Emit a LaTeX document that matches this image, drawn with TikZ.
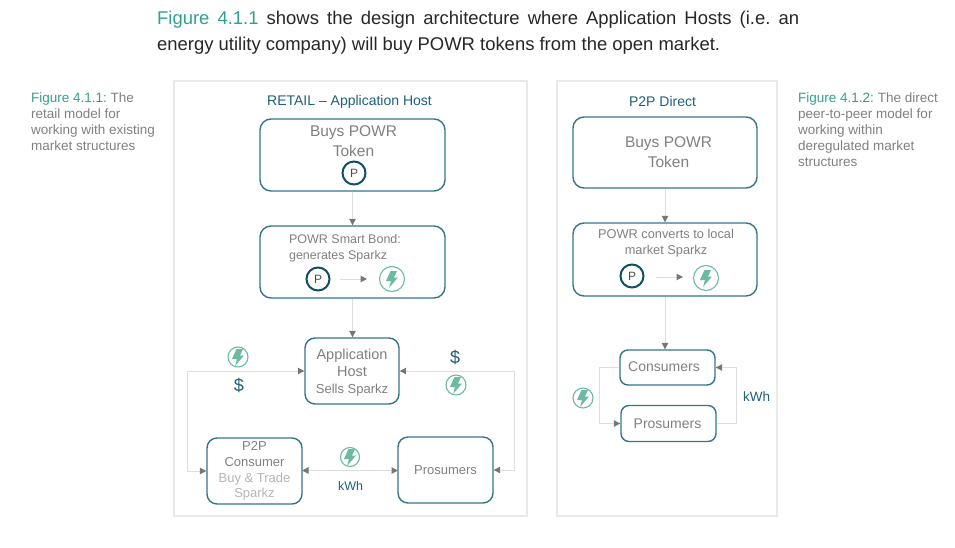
\documentclass[tikz,border=0pt]{standalone}
\usepackage{fontspec}
\setmainfont{Liberation Sans}
\frenchspacing
\definecolor{boxteal}{HTML}{347489}
\definecolor{darkteal}{HTML}{1F5F7A}
\definecolor{ringteal}{HTML}{0F4F68}
\definecolor{sparkgreen}{HTML}{6DBB9F}
\definecolor{figgreen}{HTML}{2FA08F}
\definecolor{textgray}{HTML}{808080}
\definecolor{palegray}{HTML}{B5B5B5}
\definecolor{panelgray}{HTML}{E9E9E9}
\definecolor{linegray}{HTML}{DEDEDE}
\definecolor{tipgray}{HTML}{777777}
\usetikzlibrary{arrows.meta}
\tikzset{
  panel/.style = {draw = panelgray, line width = 1.6pt},
  stepbox/.style = {draw = boxteal, line width = 1.4pt, rounded corners = 11pt, inner sep = 0pt},
  boxtext/.style = {inner sep = 0pt, text = textgray, align = center},
  flow/.style = {draw = linegray, line width = 1pt, -{Triangle[length = 6.5pt, width = 6.5pt, color = tipgray]}},
  twoway/.style = {flow, {Triangle[length = 6.5pt, width = 6.5pt, color = tipgray]}-{Triangle[length = 6.5pt, width = 6.5pt, color = tipgray]}},
  powr/.style = {circle, draw = ringteal, line width = 2pt, minimum size = 23pt, inner sep = 0pt, text = black!70, font = \fontsize{12}{12}\selectfont},
  sparkz/.style = {circle, draw = sparkgreen, line width = 1.1pt, minimum size = #1, inner sep = 0pt,
    path picture = {\fill[sparkgreen, scale = #1/24pt, shift = {(path picture bounding box.center)}]
      (-1.5pt, 8pt) -- (5pt, 8pt) -- (2pt, 1.5pt) -- (6pt, 1.5pt) -- (-3pt, -9pt) -- (-1pt, -2pt) -- (-6pt, -2pt) -- cycle;}},
  sparkz/.default = 22pt,
  lbl/.style = {text = darkteal, inner sep = 0pt},
  side/.style = {anchor = north west, align = left, text = textgray, inner sep = 0pt, font = \fontsize{13.5}{16}\selectfont},
  head/.style = {text = darkteal, inner sep = 0pt, font = \fontsize{14}{14}\selectfont},
  intro/.style = {anchor = base west, inner sep = 0pt, text = black!85, font = \fontsize{18.45}{18.45}\selectfont}
}
\begin{document}
\begin{tikzpicture}[x = 1pt, y = -1pt]
  \useasboundingbox (0, 0) rectangle (955, 548);
  % intro text
  \node (introa) [intro] at (157, 25) {\makebox[642pt][s]{\textcolor{figgreen}{Figure 4.1.1} shows the design architecture where Application Hosts (i.e. an}};
  \node (introb) [intro] at (157, 51) {energy utility company) will buy POWR tokens from the open market.};
  % side notes
  \node (noteleft) [side] at (31, 93) {\textcolor{figgreen}{Figure 4.1.1:} The\\retail model for\\working with existing\\market structures};
  \node (noteright) [side] at (798, 93) {\textcolor{figgreen}{Figure 4.1.2:} The direct\\peer-to-peer model for\\working within\\deregulated market\\structures};
  % panels
  \node (retail) [panel, minimum width = 353pt, minimum height = 435pt] at (350.5, 298.5) {};
  \node (direct) [panel, minimum width = 220pt, minimum height = 435pt] at (667, 298.5) {};
  \node (retailhead) [head] at (349.5, 101.5) {RETAIL -- Application Host};
  \node (directhead) [head] at (662.5, 101) {P2P Direct};
  % retail model
  \node (buya) [stepbox, minimum width = 185pt, minimum height = 72pt] at (352.5, 155) {};
  \node (buyatext) [boxtext, font = \fontsize{15.5}{20}\selectfont] at (353.5, 141) {Buys POWR\\Token};
  \node (buyap) [powr] at (354, 173) {P};
  \node (bond) [stepbox, minimum width = 185pt, minimum height = 72pt] at (352.5, 262) {};
  \node (bondtext) [boxtext, align = left, font = \fontsize{12.5}{16}\selectfont] at (345, 248) {POWR Smart Bond:\\generates Sparkz};
  \node (bondp) [powr] at (318, 279) {P};
  \node (bonds) [sparkz = 25pt] at (392, 279) {};
  \coordinate (bonda) at (340, 279);
  \coordinate (bondb) at (367, 279);
  \node (host) [stepbox, rounded corners = 10pt, minimum width = 94pt, minimum height = 66pt] at (352, 371) {};
  \node (hosttext) [boxtext, font = \fontsize{14.5}{17}\selectfont] at (352, 373) {Application\\Host\\{\fontsize{13}{17}\selectfont Sells Sparkz}};
  \node (consumer) [stepbox, rounded corners = 10pt, minimum width = 95pt, minimum height = 66pt] at (254.5, 471) {};
  \node (consumertext) [boxtext, font = \fontsize{13}{15.7}\selectfont] at (254.5, 471) {P2P\\Consumer\\\textcolor{palegray}{Buy \& Trade}\\\textcolor{palegray}{Sparkz}};
  \node (prosa) [stepbox, rounded corners = 10pt, minimum width = 95pt, minimum height = 66pt, text = textgray, font = \fontsize{13}{15}\selectfont] at (445.5, 470) {Prosumers};
  \node (hosts) [sparkz = 20pt] at (238, 357) {};
  \node (hostd) [lbl, font = \fontsize{18}{18}\selectfont] at (239, 385) {\$};
  \node (hostdr) [lbl, font = \fontsize{18}{18}\selectfont] at (455, 357) {\$};
  \node (hostsr) [sparkz = 20pt] at (456, 385) {};
  \node (kwhs) [sparkz = 19pt] at (350, 457) {};
  \node (kwha) [lbl, font = \fontsize{12.5}{12.5}\selectfont] at (350.5, 486) {kWh};
  \coordinate (la) at (187, 371);
  \coordinate (lb) at (187, 471);
  \coordinate (ra) at (514, 371);
  \coordinate (rb) at (514, 470);
  \coordinate (mida) at (302, 470.5);
  \coordinate (midb) at (398, 470.5);
  \draw[flow] (buya) -- (bond);
  \draw[flow] (bond) -- (bond |- host.north);
  \draw[flow] (bonda) -- (bondb);
  \draw[twoway] (consumer.west) -- (lb) -- (la) -- (host.west);
  \draw[twoway] (prosa.east) -- (rb) -- (ra) -- (host.east);
  \draw[twoway] (mida) -- (midb);
  % direct model
  \node (buyb) [stepbox, minimum width = 184pt, minimum height = 71pt] at (665, 152.5) {};
  \node (buybtext) [boxtext, font = \fontsize{15.5}{20}\selectfont] at (668.5, 152) {Buys POWR\\Token};
  \node (convert) [stepbox, minimum width = 184pt, minimum height = 73pt] at (665, 259.5) {};
  \node (converttext) [boxtext, font = \fontsize{12.8}{16}\selectfont] at (666, 243.5) {POWR converts to local\\market Sparkz};
  \node (convertp) [powr] at (632, 276) {P};
  \node (converts) [sparkz = 25pt] at (706, 278) {};
  \coordinate (converta) at (656, 277);
  \coordinate (convertb) at (683, 277);
  \node (cons) [stepbox, rounded corners = 8pt, minimum width = 95pt, minimum height = 35pt] at (667.5, 367.5) {};
  \node (constext) [boxtext, font = \fontsize{14}{14}\selectfont] at (664, 366.5) {Consumers};
  \node (prosb) [stepbox, rounded corners = 8pt, minimum width = 95pt, minimum height = 36pt] at (668.5, 423.5) {};
  \node (prosbtext) [boxtext, font = \fontsize{14}{14}\selectfont] at (667.5, 424) {Prosumers};
  \node (loops) [sparkz = 20pt] at (583, 398) {};
  \node (kwhb) [lbl, font = \fontsize{13.5}{13.5}\selectfont] at (756.5, 397) {kWh};
  \coordinate (da) at (599, 367.5);
  \coordinate (db) at (599, 423.5);
  \coordinate (dc) at (736, 423.5);
  \coordinate (dd) at (736, 367.5);
  \draw[flow] (buyb) -- (convert);
  \draw[flow] (convert) -- (convert |- cons.north);
  \draw[flow] (converta) -- (convertb);
  \draw[flow] (cons.west) -- (da) -- (db) -- (prosb.west);
  \draw[flow] (prosb.east) -- (dc) -- (dd) -- (cons.east);
\end{tikzpicture}
\end{document}
